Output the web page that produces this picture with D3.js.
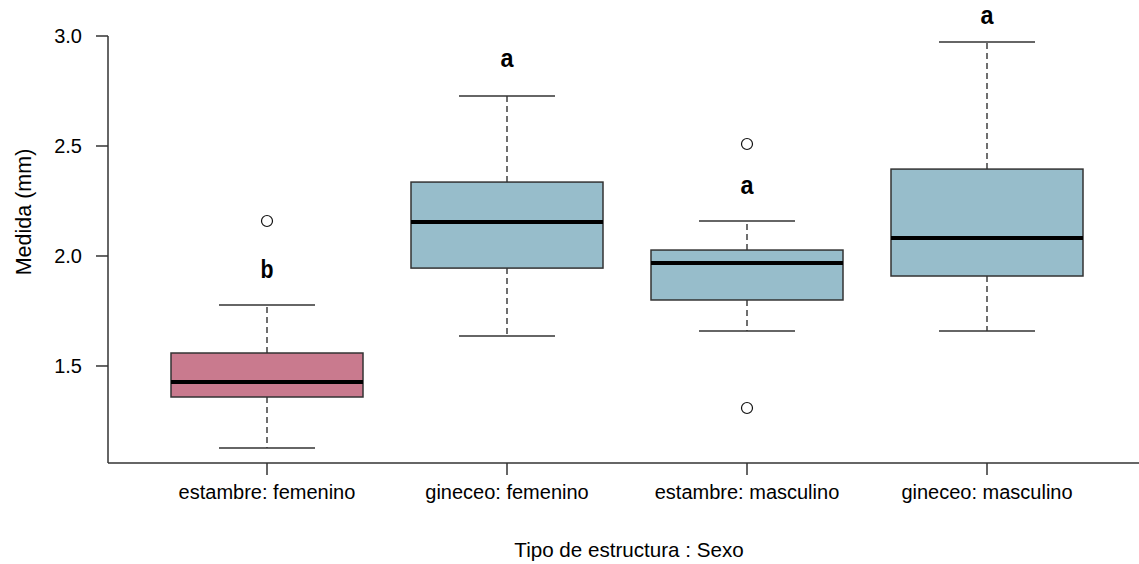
<!DOCTYPE html>
<html>
<head>
<meta charset="utf-8">
<script src="https://cdn.jsdelivr.net/npm/d3@7"></script>
<style>
  html, body { margin: 0; padding: 0; background: #fff; }
  svg text { font-family: "Liberation Sans", Arial, Helvetica, sans-serif; fill: #000; }
</style>
</head>
<body>
<svg id="chart" width="1139" height="564"></svg>
<script>
// Groups (structure type : sex)
const categories = ["estambre: femenino", "gineceo: femenino", "estambre: masculino", "gineceo: masculino"];
// Five-number summaries per group (mm)
const whiskerLow  = [1.127, 1.636, 1.659, 1.659];
const q1          = [1.359, 1.945, 1.800, 1.909];
const medians     = [1.427, 2.155, 1.968, 2.082];
const q3          = [1.559, 2.336, 2.027, 2.395];
const whiskerHigh = [1.777, 2.727, 2.159, 2.973];
// Outlying observations: [group index, value]
const outliers = [[0, 2.159], [2, 2.509], [2, 1.309]];
// Compact letter display (post-hoc groups) and their heights
const letters = ["b", "a", "a", "a"];
const letterY = [1.93, 2.89, 2.31, 3.085];
const fills = ["#C97A8E", "#97BDCB", "#97BDCB", "#97BDCB"];
const yTicks = [1.5, 2.0, 2.5, 3.0];

const svg = d3.select("#chart");

const x = d3.scaleLinear().domain([0.5, 4.5]).range([147, 1107]);
const y = d3.scaleLinear().domain([1.059, 3.05]).range([463, 25]);

const boxHalf = x(1.4) - x(1);   // half box width (0.4 units)
const capHalf = x(1.2) - x(1);   // half whisker cap width

const stroke = "#333";

const g = svg.append("g");

categories.forEach((c, i) => {
  const cx = x(i + 1);
  // dashed whiskers
  g.append("line").attr("x1", cx).attr("x2", cx)
    .attr("y1", y(q3[i])).attr("y2", y(whiskerHigh[i]))
    .attr("stroke", "#222").attr("stroke-width", 1.3).attr("stroke-dasharray", "6,4");
  g.append("line").attr("x1", cx).attr("x2", cx)
    .attr("y1", y(q1[i])).attr("y2", y(whiskerLow[i]))
    .attr("stroke", "#222").attr("stroke-width", 1.3).attr("stroke-dasharray", "6,4");
  // caps
  [whiskerHigh[i], whiskerLow[i]].forEach(v => {
    g.append("line").attr("x1", cx - capHalf).attr("x2", cx + capHalf)
      .attr("y1", y(v)).attr("y2", y(v))
      .attr("stroke", stroke).attr("stroke-width", 1.5);
  });
  // box
  g.append("rect")
    .attr("x", cx - boxHalf).attr("width", 2 * boxHalf)
    .attr("y", y(q3[i])).attr("height", y(q1[i]) - y(q3[i]))
    .attr("fill", fills[i]).attr("stroke", stroke).attr("stroke-width", 1.5);
  // median
  g.append("line").attr("x1", cx - boxHalf).attr("x2", cx + boxHalf)
    .attr("y1", y(medians[i])).attr("y2", y(medians[i]))
    .attr("stroke", "#000").attr("stroke-width", 4);
  // letter
  g.append("text").attr("x", cx).attr("y", y(letterY[i]))
    .attr("text-anchor", "middle").attr("dominant-baseline", "middle")
    .attr("font-weight", "bold").attr("font-size", 25)
    .attr("textLength", 13).attr("lengthAdjust", "spacingAndGlyphs")
    .text(letters[i]);
});

outliers.forEach(([i, v]) => {
  g.append("circle").attr("cx", x(i + 1)).attr("cy", y(v)).attr("r", 5.5)
    .attr("fill", "#fff").attr("stroke", "#111").attr("stroke-width", 1.2);
});

// Left axis (L-shaped frame)
svg.append("line").attr("x1", 108).attr("x2", 108)
  .attr("y1", y(3.0)).attr("y2", 463).attr("stroke", stroke).attr("stroke-width", 1.5);
yTicks.forEach(t => {
  svg.append("line").attr("x1", 96).attr("x2", 108).attr("y1", y(t)).attr("y2", y(t))
    .attr("stroke", stroke).attr("stroke-width", 1.5);
  svg.append("text").attr("x", 82).attr("y", y(t)).attr("text-anchor", "end")
    .attr("dominant-baseline", "central").attr("font-size", 20).text(t.toFixed(1));
});

// Bottom axis
svg.append("line").attr("x1", 108).attr("x2", 1139).attr("y1", 463).attr("y2", 463)
  .attr("stroke", stroke).attr("stroke-width", 1.5);
categories.forEach((c, i) => {
  const cx = x(i + 1);
  svg.append("line").attr("x1", cx).attr("x2", cx).attr("y1", 463).attr("y2", 475)
    .attr("stroke", stroke).attr("stroke-width", 1.5);
  svg.append("text").attr("x", cx).attr("y", 499).attr("text-anchor", "middle")
    .attr("font-size", 20).text(c);
});

// Axis titles
svg.append("text").attr("x", 629).attr("y", 557).attr("text-anchor", "middle")
  .attr("font-size", 20.6).text("Tipo de estructura : Sexo");
svg.append("text").attr("transform", "translate(31,212) rotate(-90)")
  .attr("text-anchor", "middle").attr("font-size", 21.5).text("Medida (mm)");
</script>
</body>
</html>
